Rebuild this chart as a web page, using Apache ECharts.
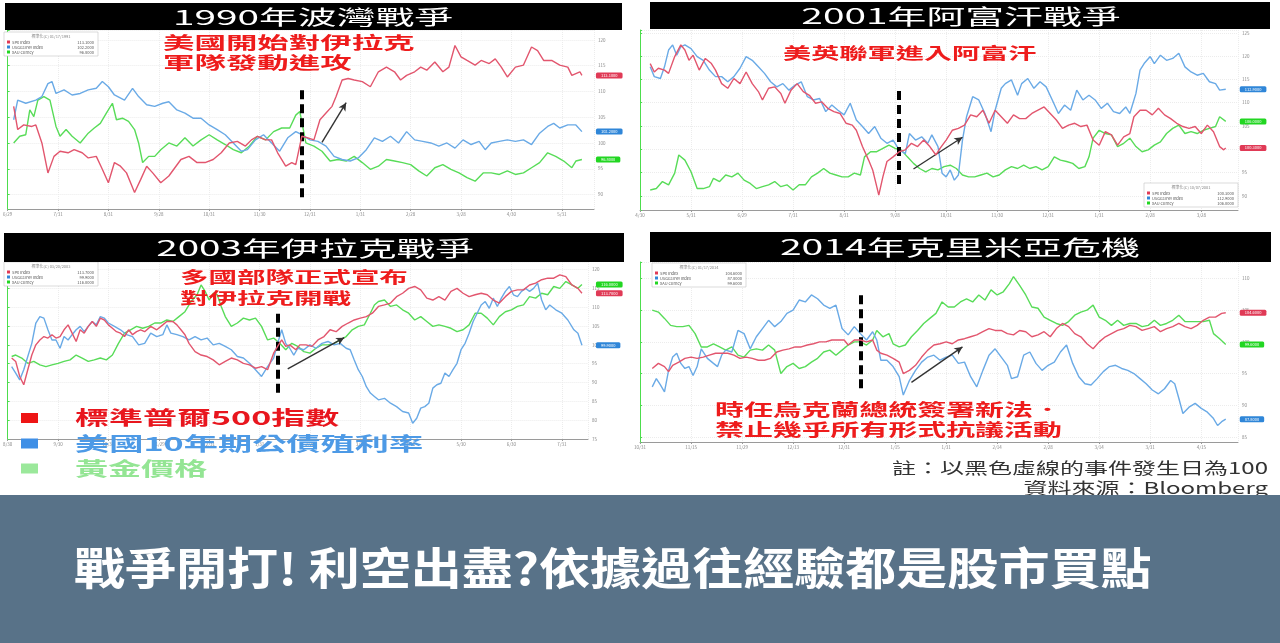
<!DOCTYPE html>
<html><head><meta charset="utf-8">
<script src="https://cdn.jsdelivr.net/npm/echarts@6/dist/echarts.min.js"></script>
<style>html,body{margin:0;padding:0;background:#fff;}#c{width:1280px;height:643px;}</style>
</head><body><div id="c"></div>
<script>
// ---------------- DATA ----------------
const panelTitles = ['1990年波灣戰爭', '2001年阿富汗戰爭', '2003年伊拉克戰爭', '2014年克里米亞危機'];
const seriesNames = ['SPX Index', 'USGG10YR Index', 'XAU Curncy'];
const legendLabels = ['標準普爾500指數', '美國10年期公債殖利率', '黃金價格'];
const annotations = [
  ['美國開始對伊拉克', '軍隊發動進攻'],
  ['美英聯軍進入阿富汗'],
  ['多國部隊正式宣布', '對伊拉克開戰'],
  ['時任烏克蘭總統簽署新法．', '禁止幾乎所有形式抗議活動']
];
const footNotes = ['註：以黑色虛線的事件發生日為100', '資料來源：Bloomberg'];
const bannerText = '戰爭開打! 利空出盡?依據過往經驗都是股市買點';
const boxHeaders = ['標準化(C) 01/17/1991', '標準化(C) 10/07/2001', '標準化(C) 03/20/2003', '標準化(C) 01/17/2014'];

const xTicks1990 = ['6/29','7/31','8/31','9/28','10/31','11/30','12/31','1/31','2/28','3/28','4/30','5/31'];
const xTicks2001 = ['4/30','5/31','6/29','7/31','8/31','9/28','10/31','11/30','12/31','1/31','2/28','3/28'];
const xTicks2003 = ['8/30','9/30','10/31','11/29','12/31','1/31','2/28','3/31','4/30','5/30','6/30','7/31'];
const xTicks2014 = ['10/31','11/15','11/29','12/13','12/31','1/15','1/31','2/14','2/28','3/14','3/31','4/15'];

// [trading day, value rebased to 100 at event]
const spx1990 = [[3,107.1],[5,102.6],[8,103.5],[12,103.2],[14,103.5],[17,100.0],[20,94.2],[23,97.4],[26,98.4],[30,98.1],[33,98.7],[37,98.1],[40,97.1],[44,97.4],[47,94.9],[50,92.3],[53,96.2],[56,95.5],[59,94.2],[63,90.4],[66,92.9],[69,95.5],[72,94.2],[76,92.3],[80,93.6],[83,95.2],[86,96.8],[90,97.4],[94,96.2],[98,96.2],[102,96.8],[106,98.1],[110,100.0],[114,100.3],[118,99.4],[121,100.6],[124,101.3],[128,100.6],[131,100.6],[134,98.1],[138,95.5],[141,96.2],[143,95.8],[146,101.3],[149,101.0],[152,100.6],[155,104.5],[158,105.8],[161,107.1],[163,109.0],[166,112.2],[169,112.5],[172,112.2],[176,111.9],[180,110.9],[184,113.8],[188,114.7],[192,113.8],[195,112.2],[198,113.1],[202,113.8],[205,114.7],[208,114.1],[212,115.7],[216,113.8],[219,114.7],[222,118.9],[225,116.7],[228,116.0],[232,115.1],[235,116.0],[239,115.4],[242,116.3],[245,114.7],[248,112.8],[252,114.7],[256,115.1],[260,118.6],[263,117.9],[266,116.0],[270,116.0],[274,115.1],[278,114.7],[280,113.1],[284,113.8],[285,113.1]];
const ust1990 = [[3,104.5],[5,108.3],[9,107.7],[14,108.3],[17,109.0],[20,111.5],[22,111.9],[24,109.6],[28,110.3],[32,109.3],[36,109.6],[40,110.3],[44,110.6],[47,111.9],[50,110.9],[53,109.3],[58,108.3],[62,110.6],[65,109.0],[69,107.4],[73,107.1],[77,107.7],[80,108.0],[84,106.4],[88,105.8],[92,104.8],[96,104.8],[100,103.5],[104,102.6],[108,101.6],[112,100.0],[116,98.4],[119,98.7],[123,100.6],[127,101.6],[131,100.0],[135,98.4],[139,101.0],[143,102.2],[146,101.6],[150,100.6],[154,100.3],[158,99.4],[162,97.4],[166,96.8],[170,96.5],[174,97.1],[178,98.7],[182,101.0],[186,100.3],[190,101.3],[194,100.0],[198,102.2],[202,100.6],[206,100.3],[210,100.0],[214,99.4],[218,100.0],[222,99.0],[226,100.6],[230,99.7],[234,100.3],[237,98.7],[240,100.0],[244,100.3],[248,100.6],[252,100.3],[256,100.6],[260,99.7],[264,101.9],[268,103.2],[271,103.8],[274,102.9],[278,103.5],[282,103.5],[285,102.2]];
const gold1990 = [[3,100.0],[6,101.3],[9,101.6],[11,106.4],[13,105.1],[15,108.3],[18,109.0],[21,108.3],[24,103.2],[26,101.3],[29,102.6],[32,101.3],[36,100.0],[40,101.9],[43,102.9],[46,103.8],[49,105.8],[52,107.7],[54,104.5],[57,104.8],[60,104.2],[63,102.6],[65,100.0],[67,96.2],[70,97.4],[73,97.4],[76,98.7],[80,100.0],[84,99.4],[88,101.0],[92,99.4],[96,100.6],[100,101.6],[104,100.6],[108,99.7],[112,98.7],[116,98.1],[120,99.4],[124,101.3],[128,100.6],[132,102.2],[136,102.9],[140,102.9],[143,105.4],[145,106.1],[148,100.0],[152,99.4],[156,98.4],[160,96.5],[164,96.8],[168,96.5],[172,97.4],[176,96.2],[180,94.9],[184,95.5],[188,96.8],[192,96.5],[196,96.2],[200,95.8],[204,94.6],[208,93.6],[212,95.2],[216,95.8],[220,94.9],[224,94.2],[228,93.3],[232,92.6],[236,94.2],[240,94.2],[244,93.9],[248,94.6],[252,93.9],[256,94.2],[260,95.2],[264,96.2],[268,98.1],[272,97.4],[276,96.5],[280,95.2],[282,96.5],[285,96.8]];

const spx2001 = [[5,118.4],[7,116.6],[9,117.4],[12,117.0],[14,116.3],[17,119.9],[20,122.4],[22,121.3],[24,119.1],[26,120.2],[29,117.0],[32,119.5],[35,118.4],[37,117.0],[40,114.1],[43,113.1],[46,115.2],[49,114.1],[52,116.6],[55,114.1],[58,112.4],[60,110.6],[63,113.1],[66,113.4],[69,112.0],[71,109.9],[74,112.7],[77,114.1],[80,112.4],[83,111.6],[86,109.9],[89,110.2],[92,108.8],[95,108.1],[98,107.7],[101,105.6],[104,105.2],[106,104.1],[109,100.6],[112,97.7],[114,95.6],[116,92.0],[117,90.2],[119,94.1],[121,97.4],[124,98.4],[127,99.5],[130,99.9],[133,101.3],[136,100.6],[139,102.0],[142,100.6],[145,98.8],[147,100.2],[150,102.0],[153,104.1],[156,104.5],[159,105.2],[162,107.4],[165,107.0],[168,108.4],[171,105.6],[174,108.4],[177,107.0],[180,105.6],[183,107.4],[186,106.6],[189,106.6],[192,107.7],[195,108.4],[198,109.1],[201,107.7],[204,106.3],[207,104.5],[210,105.2],[213,105.6],[216,104.9],[219,105.2],[222,102.0],[225,100.9],[228,103.8],[231,103.1],[234,100.9],[237,102.7],[240,103.4],[242,107.0],[245,108.4],[248,108.4],[251,107.4],[254,108.8],[257,107.4],[260,106.6],[263,105.6],[266,104.9],[269,104.5],[272,104.9],[275,103.4],[278,105.2],[281,103.8],[284,100.6],[286,99.9],[287,100.3]];
const ust2001 = [[5,117.7],[7,115.6],[10,115.2],[12,117.7],[14,121.3],[16,122.4],[18,120.2],[20,122.0],[22,122.4],[25,121.6],[28,119.9],[31,119.1],[34,117.0],[37,115.6],[40,115.6],[43,114.5],[46,115.6],[49,117.4],[52,119.9],[55,119.1],[58,117.7],[61,116.3],[64,114.5],[67,113.4],[70,114.1],[73,112.7],[76,113.8],[79,114.5],[82,111.3],[85,110.6],[88,110.9],[91,108.1],[94,109.5],[97,108.4],[100,107.4],[103,109.9],[106,106.3],[109,104.9],[112,103.4],[115,104.9],[118,102.4],[121,101.3],[124,102.0],[127,99.9],[130,99.1],[132,103.4],[135,102.0],[138,102.7],[141,101.3],[143,103.1],[146,100.6],[148,94.9],[150,94.1],[152,95.6],[154,93.4],[156,94.5],[158,102.0],[160,107.0],[163,111.3],[166,110.6],[169,107.7],[172,103.8],[174,108.4],[177,113.1],[179,114.1],[182,114.9],[185,111.6],[187,114.1],[190,115.2],[193,113.1],[196,114.5],[199,113.4],[202,110.6],[205,107.7],[208,109.5],[211,108.4],[214,112.7],[217,110.6],[220,111.6],[223,110.6],[226,108.8],[229,109.9],[232,108.1],[235,107.7],[238,109.1],[240,107.7],[243,112.0],[245,117.0],[247,118.4],[250,119.9],[252,118.4],[255,120.2],[258,119.1],[261,119.5],[264,120.6],[267,117.7],[270,116.6],[273,115.9],[276,116.3],[279,114.5],[282,114.1],[284,112.7],[287,112.9]];
const gold2001 = [[5,91.3],[8,91.6],[11,93.1],[14,92.4],[17,94.9],[19,98.8],[22,97.7],[25,95.2],[28,91.6],[31,91.6],[34,92.0],[36,93.8],[39,93.1],[42,94.5],[45,94.1],[48,94.9],[51,93.4],[54,92.7],[57,91.6],[60,92.0],[63,92.4],[66,93.1],[69,92.0],[72,92.4],[75,91.3],[78,92.4],[81,92.4],[84,94.1],[87,94.9],[90,95.9],[93,94.9],[96,94.5],[99,94.1],[102,94.1],[105,94.9],[108,94.5],[110,98.4],[113,99.5],[116,99.5],[119,100.2],[122,100.9],[125,100.2],[128,99.9],[131,98.4],[134,97.0],[137,95.9],[140,95.2],[143,95.9],[146,95.6],[149,96.3],[152,96.6],[155,95.9],[158,94.5],[161,94.1],[164,94.1],[167,94.5],[170,94.9],[173,94.1],[176,94.5],[179,95.6],[182,96.3],[185,95.9],[188,96.6],[191,95.9],[194,96.3],[197,95.6],[200,96.3],[203,98.4],[206,97.7],[209,97.4],[212,97.0],[215,95.9],[218,96.3],[220,98.4],[222,102.4],[225,104.1],[228,103.4],[231,103.1],[234,100.6],[237,101.3],[240,102.4],[243,100.6],[246,99.5],[249,99.9],[252,100.9],[255,101.6],[258,103.4],[261,104.5],[264,105.2],[267,103.4],[270,103.8],[273,103.4],[276,104.1],[279,104.5],[282,104.9],[284,107.0],[287,106.0]];

const spx2003 = [[2,96.5],[4,95.6],[6,91.6],[8,89.4],[10,93.4],[12,97.3],[14,100.0],[16,101.3],[18,102.2],[20,101.8],[22,102.7],[24,101.8],[26,102.2],[28,104.0],[30,105.3],[32,103.1],[34,100.9],[36,104.0],[38,103.1],[40,104.9],[42,106.2],[44,104.9],[46,107.1],[48,106.6],[50,105.3],[52,104.4],[54,103.5],[56,103.1],[58,102.2],[60,104.0],[62,102.7],[64,103.5],[66,104.0],[68,103.5],[71,104.9],[74,104.0],[77,105.3],[79,106.2],[82,106.2],[84,105.3],[86,104.0],[88,102.7],[90,100.4],[93,98.2],[96,97.3],[99,96.9],[102,96.0],[105,94.7],[108,95.6],[111,96.5],[114,96.0],[117,95.1],[120,94.7],[123,93.8],[126,94.2],[129,93.4],[132,97.8],[134,99.6],[136,101.3],[138,99.6],[140,100.0],[143,98.7],[145,100.0],[148,100.0],[151,99.6],[154,101.3],[157,102.2],[160,104.0],[163,103.5],[166,104.9],[169,105.8],[172,106.6],[175,107.1],[178,107.5],[181,108.4],[184,110.2],[187,110.6],[190,111.1],[193,112.8],[196,113.7],[199,115.0],[202,115.5],[205,114.6],[208,112.4],[211,111.9],[214,112.8],[217,111.9],[220,114.2],[223,115.0],[226,113.7],[229,112.8],[232,113.3],[235,113.7],[238,113.3],[241,111.9],[244,111.1],[247,112.8],[250,114.2],[253,114.6],[256,114.6],[259,115.9],[262,116.4],[265,117.3],[268,117.7],[271,117.7],[274,118.6],[277,118.1],[280,115.9],[283,115.0],[285,113.7]];
const ust2003 = [[2,94.2],[4,92.5],[6,90.7],[8,93.4],[10,96.9],[12,100.4],[14,105.8],[16,107.5],[18,107.1],[20,104.0],[22,101.3],[24,101.3],[26,99.1],[28,102.2],[30,101.3],[32,102.7],[34,104.0],[36,104.9],[38,103.5],[40,104.9],[42,106.2],[44,105.3],[46,107.5],[48,107.1],[50,105.8],[53,104.9],[56,104.0],[59,102.7],[62,102.2],[65,100.0],[68,100.4],[71,103.1],[74,102.2],[77,102.7],[79,105.3],[81,103.1],[84,102.7],[87,102.2],[90,101.3],[93,102.2],[96,101.3],[99,101.8],[102,100.0],[105,100.4],[108,99.6],[111,98.7],[114,96.9],[117,96.5],[120,95.1],[123,93.4],[126,91.6],[129,94.2],[132,96.5],[134,100.4],[136,104.0],[138,100.4],[140,99.1],[142,97.3],[144,99.1],[147,98.7],[150,100.0],[153,99.1],[156,100.4],[159,100.9],[162,100.0],[165,100.4],[168,99.1],[170,98.7],[172,96.0],[174,93.4],[176,91.6],[178,88.9],[180,87.2],[182,86.3],[184,85.4],[187,85.8],[190,84.5],[193,83.6],[196,82.3],[199,81.9],[201,79.2],[203,80.5],[205,83.2],[207,83.6],[209,84.5],[211,88.5],[213,89.4],[215,89.8],[217,92.5],[219,91.6],[221,93.4],[223,95.1],[225,98.7],[227,100.4],[229,103.1],[231,106.2],[233,108.4],[235,110.6],[237,111.5],[239,109.7],[241,112.4],[243,110.2],[245,112.4],[247,114.2],[249,115.5],[251,113.3],[253,112.8],[255,114.2],[257,115.0],[259,114.2],[261,115.0],[263,116.4],[265,111.9],[267,109.3],[269,110.6],[272,109.3],[275,108.4],[278,106.6],[281,104.0],[283,103.1],[285,99.9]];
const gold2003 = [[2,96.9],[4,97.3],[7,96.5],[10,95.1],[13,95.6],[16,94.7],[19,94.2],[22,94.7],[25,95.1],[28,95.6],[31,96.0],[34,97.3],[37,96.5],[40,95.6],[43,96.0],[46,96.5],[49,96.0],[52,97.3],[55,100.4],[58,103.1],[61,104.0],[64,104.9],[67,104.4],[70,104.9],[73,105.8],[76,105.8],[79,106.6],[82,106.2],[85,107.5],[88,108.8],[91,111.5],[94,113.3],[96,115.9],[98,114.2],[100,111.9],[102,113.7],[104,113.3],[106,110.2],[108,107.5],[111,104.9],[114,105.8],[117,107.1],[120,106.6],[123,107.1],[126,104.9],[129,101.3],[132,101.8],[135,100.4],[138,98.7],[141,100.4],[144,99.6],[147,98.2],[150,97.8],[153,99.1],[156,100.0],[159,100.0],[162,100.4],[165,101.3],[168,102.2],[171,104.0],[174,104.9],[177,105.3],[180,108.4],[182,110.6],[184,111.5],[187,111.9],[190,110.2],[193,110.6],[196,109.3],[199,108.4],[202,106.6],[205,107.5],[208,106.2],[211,104.9],[214,105.3],[217,104.9],[220,104.4],[223,103.5],[226,104.0],[229,105.3],[232,108.4],[235,108.4],[238,107.1],[241,105.3],[244,107.5],[247,108.8],[250,109.3],[253,110.2],[256,110.6],[259,112.8],[262,112.4],[265,113.7],[268,113.3],[271,115.5],[274,115.0],[277,116.8],[280,115.9],[283,115.0],[285,116.0]];

const spx2014 = [[6,95.8],[9,96.6],[12,96.1],[14,95.3],[16,96.3],[19,96.8],[22,97.4],[25,97.6],[28,97.4],[31,97.6],[34,97.9],[37,98.2],[40,98.2],[43,98.2],[46,97.9],[49,97.4],[52,97.6],[55,97.4],[58,97.1],[61,97.1],[64,97.4],[67,98.4],[70,98.7],[73,98.9],[76,99.2],[79,99.2],[82,99.5],[85,99.7],[88,100.0],[91,100.0],[94,100.3],[97,100.3],[100,100.3],[102,99.5],[105,100.3],[108,100.3],[111,100.0],[114,100.3],[116,98.7],[118,98.2],[121,97.9],[124,97.4],[127,96.8],[129,95.0],[132,95.5],[135,96.3],[138,97.6],[141,98.7],[144,99.5],[147,99.7],[150,100.0],[153,99.7],[156,100.3],[159,100.5],[162,100.8],[165,101.1],[168,101.6],[171,102.1],[174,101.8],[177,101.8],[180,101.3],[183,101.1],[186,101.8],[189,101.6],[192,100.8],[195,101.1],[198,101.6],[201,100.8],[204,102.1],[207,102.9],[210,102.4],[213,101.3],[216,100.8],[219,99.7],[222,98.9],[225,100.0],[228,100.8],[231,101.3],[234,101.8],[237,102.1],[240,102.6],[243,102.4],[246,101.8],[249,102.1],[252,102.4],[255,101.6],[258,102.1],[261,102.4],[264,102.9],[267,102.4],[270,102.1],[273,102.6],[276,103.4],[279,103.9],[282,103.9],[285,104.5],[287,104.6]];
const ust2014 = [[6,92.9],[8,94.2],[10,93.2],[12,92.1],[14,95.5],[16,97.6],[18,98.2],[20,96.6],[22,95.8],[24,96.1],[26,94.7],[28,96.1],[30,98.9],[33,97.4],[36,96.6],[38,96.1],[40,97.9],[42,98.7],[45,98.4],[48,101.8],[51,101.3],[54,98.9],[57,100.8],[60,102.1],[63,103.4],[66,102.4],[69,103.2],[72,104.5],[75,105.0],[78,106.6],[81,106.3],[84,107.4],[87,106.8],[90,105.8],[93,105.3],[96,105.8],[99,102.1],[102,101.1],[105,102.4],[108,101.3],[111,100.3],[114,101.6],[116,100.3],[118,97.1],[121,97.1],[124,96.1],[127,94.5],[129,91.6],[132,93.9],[135,95.5],[138,96.8],[141,97.6],[144,97.9],[147,97.1],[150,97.6],[153,97.9],[156,96.6],[159,96.8],[162,94.5],[165,92.9],[168,95.5],[171,97.9],[174,98.9],[177,97.6],[180,96.3],[182,94.2],[185,94.5],[188,97.9],[191,98.4],[194,96.6],[197,95.5],[200,96.3],[203,96.8],[206,98.4],[209,99.5],[212,96.6],[215,94.5],[218,93.4],[221,93.2],[224,94.2],[227,95.3],[230,96.1],[233,96.3],[236,95.8],[239,95.5],[242,95.0],[245,94.2],[248,93.4],[251,92.4],[254,91.8],[257,92.6],[260,93.9],[262,93.4],[264,91.1],[266,88.7],[269,89.7],[272,90.3],[275,89.5],[278,88.9],[281,87.9],[283,86.8],[285,87.4],[287,87.8]];
const gold2014 = [[6,105.0],[9,104.7],[12,103.7],[15,102.6],[18,102.4],[21,102.4],[24,102.6],[27,101.3],[30,99.2],[33,99.2],[36,99.7],[39,99.2],[42,98.7],[45,99.2],[48,97.9],[51,97.6],[54,98.7],[57,98.9],[60,98.7],[63,99.5],[66,98.7],[69,95.0],[72,96.1],[75,96.6],[78,95.8],[81,96.1],[84,96.8],[87,97.4],[90,98.4],[93,98.7],[96,97.9],[99,98.7],[102,99.5],[105,100.0],[108,100.0],[111,99.5],[114,100.3],[116,101.8],[119,100.8],[122,101.3],[124,99.7],[127,99.2],[130,99.5],[133,100.8],[136,101.8],[139,102.9],[142,103.7],[145,104.5],[148,106.3],[151,105.5],[154,105.5],[157,106.3],[160,106.8],[163,106.3],[166,107.4],[169,106.6],[172,108.2],[175,107.4],[178,107.9],[181,109.2],[183,110.3],[186,108.9],[189,107.4],[192,105.5],[195,105.3],[198,103.9],[201,103.4],[204,102.9],[207,102.6],[210,103.2],[213,104.2],[216,104.7],[219,105.0],[222,105.8],[225,103.9],[228,103.4],[231,102.6],[234,103.4],[237,102.6],[240,102.9],[243,102.9],[246,102.4],[249,102.6],[252,103.4],[255,102.6],[258,102.9],[261,103.4],[264,104.2],[267,103.2],[270,103.2],[273,103.2],[276,103.2],[279,103.4],[281,101.3],[284,100.5],[287,99.6]];

// event day (black dashed line) and its drawn span, arrows (day, value)
const eventDay = [146, 127, 134, 108];
const eventSpan = [[89.5, 110.3], [92.6, 112.5], [87.3, 108.5], [92.7, 107.4]];
const arrowStart = [[156, 100.1], [134, 95.8], [139, 93.6], [133, 93.6]];
const arrowEnd = [[168, 107.8], [158, 102.6], [167, 101.9], [158, 99.2]];

// ---------------- STYLE / LAYOUT ----------------
const FONT = '"Noto Sans CJK TC","Noto Sans CJK SC","Noto Sans",sans-serif';
const LINE = ['#e2566e', '#6aaae6', '#58dc58'];
const TAG = ['#e03a56', '#2f86d8', '#22d622'];
const panels = [
  {grid: {left: 0, right: 686, top: 30, bottom: 434}, xMax: 291, yMin: 87.2, yMax: 121.9, split: 7, data: [spx1990, ust1990, gold1990], ticks: xTicks1990},
  {grid: {left: 640, right: 42, top: 30, bottom: 433}, xMax: 293, yMin: 87, yMax: 125.6, split: 8, data: [spx2001, ust2001, gold2001], ticks: xTicks2001},
  {grid: {left: 0, right: 692, top: 262, bottom: 204}, xMax: 288, yMin: 75, yMax: 122, split: 9, data: [spx2003, ust2003, gold2003], ticks: xTicks2003},
  {grid: {left: 640, right: 42, top: 262, bottom: 201}, xMax: 293, yMin: 84.2, yMax: 112.6, split: 6, data: [spx2014, ust2014, gold2014], ticks: xTicks2014}
];

const grids = [], xAxes = [], yAxes = [], series = [];
panels.forEach((p, i) => {
  grids.push(Object.assign({containLabel: false}, p.grid));
  xAxes.push({
    type: 'value', gridIndex: i, min: 0, max: p.xMax, interval: 25,
    axisLine: {lineStyle: {color: '#9a9a9a'}},
    axisTick: {show: true, length: 2, lineStyle: {color: '#9a9a9a'}},
    axisLabel: {fontSize: 4.5, color: '#888', margin: 3, showMaxLabel: false,
      formatter: v => (p.ticks[Math.round(v / 25)] || '')},
    splitLine: {show: true, lineStyle: {color: '#ececec', type: 'dotted'}}
  });
  yAxes.push({
    type: 'value', gridIndex: i, position: 'right', min: p.yMin, max: p.yMax, splitNumber: p.split,
    axisLine: {show: true, lineStyle: {color: '#4ddd4d', width: 1}},
    axisTick: {show: true, length: 2, lineStyle: {color: '#4ddd4d'}},
    axisLabel: {fontSize: 4.5, color: '#888', margin: 4,
      formatter: v => (Math.abs(v % 5) < 1e-6 ? String(Math.round(v)) : '')},
    splitLine: {show: true, lineStyle: {color: '#ececec', type: 'dotted'}}
  });
  p.data.forEach((d, k) => {
    const s = {
      type: 'line', name: seriesNames[k], xAxisIndex: i, yAxisIndex: i, data: d,
      symbol: 'none', z: 3 - k * 0.1 + 2,
      lineStyle: {color: LINE[k], width: 1.4}, itemStyle: {color: LINE[k]},
      endLabel: {show: true, distance: 14, fontSize: 4, color: '#fff', backgroundColor: TAG[k],
        padding: [1, 5], borderRadius: 1.5, formatter: q => q.value[1].toFixed(4)},
      animation: false
    };
    if (k === 0) {
      s.markLine = {
        silent: true, animation: false, symbol: 'none', label: {show: false},
        data: [
          [{coord: [eventDay[i], eventSpan[i][0]], symbol: 'none', lineStyle: {color: '#000', width: 4, type: [9, 5]}},
           {coord: [eventDay[i], eventSpan[i][1]], symbol: 'none'}],
          [{coord: arrowStart[i], symbol: 'none', lineStyle: {color: '#333', width: 1.4, type: 'solid'}},
           {coord: arrowEnd[i], symbol: 'arrow', symbolSize: [6, 8]}]
        ]
      };
    }
    series.push(s);
  });
});

// ---------------- GRAPHIC TEXT ----------------
function sText(text, x, y, size, sx, color, weight, align, z) {
  return {type: 'text', x: x, y: y, scaleX: sx, z: z || 110,
    style: {text: text, fill: color, fontSize: size, fontWeight: weight || 'normal', fontFamily: FONT,
      align: align || 'left', verticalAlign: 'middle', textAlign: align || 'left', textVerticalAlign: 'middle'}};
}
const graphic = [];
// title bars
const titleBars = [[5, 3, 617, 27], [650, 2, 620, 27], [4, 233, 620, 29], [650, 232, 621, 30]];
const titlePos = [[313, 17, 20, 1.94], [961, 16, 21, 1.85], [315, 248, 21, 1.84], [960, 247.5, 21, 1.86]];
titleBars.forEach((b, i) => {
  graphic.push({type: 'rect', z: 100, shape: {x: b[0], y: b[1], width: b[2], height: b[3]}, style: {fill: '#000'}});
  const t = titlePos[i];
  graphic.push(sText(panelTitles[i], t[0], t[1], t[2], t[3], '#fff', 'normal', 'center', 101));
});
// red annotations
const annPos = [[163, 43, 20, 17, 1.85], [783, 53, 20, 16, 1.76], [180, 277, 21, 16, 1.78], [715, 410, 20, 17, 1.7]];
annotations.forEach((lines, i) => {
  const a = annPos[i];
  lines.forEach((ln, j) => graphic.push(sText(ln, a[0], a[1] + j * a[2], a[3], a[4], '#ee1c1c', 'bold', 'left', 90)));
});
// small bloomberg legend boxes
const boxPos = [[4, 32], [1144, 183], [4, 262], [652, 263]];
boxPos.forEach((b, i) => {
  const bx = b[0], by = b[1];
  graphic.push({type: 'rect', z: 95, shape: {x: bx, y: by, width: 94, height: 24}, style: {fill: '#fff', stroke: '#c4c4c4', lineWidth: 0.6}});
  graphic.push(sText(boxHeaders[i], bx + 47, by + 4.5, 4, 1, '#888', 'normal', 'center', 96));
  panels[i].data.forEach((d, k) => {
    const ry = by + 10 + k * 5;
    graphic.push({type: 'rect', z: 96, shape: {x: bx + 3, y: ry - 1.5, width: 3, height: 3}, style: {fill: TAG[k]}});
    graphic.push(sText(seriesNames[k], bx + 8, ry, 4, 1, '#555', 'normal', 'left', 96));
    graphic.push(sText(d[d.length - 1][1].toFixed(4), bx + 90, ry, 4, 1, '#555', 'normal', 'right', 96));
  });
});
// big legend
const legColors = ['#ee1515', '#3f8fe6', '#9be89b'];
const legTextColors = ['#e8161e', '#4d9ae6', '#94e594'];
const legY = [418, 443.5, 468.5];
const legScale = [1.79, 1.8, 1.74];
legendLabels.forEach((lb, k) => {
  graphic.push({type: 'rect', z: 105, shape: {x: 21, y: legY[k] - 5, width: 17, height: 10}, style: {fill: legColors[k]}});
  graphic.push(sText(lb, 75, legY[k], 19, legScale[k], legTextColors[k], 'bold', 'left', 105));
});
// footnotes
graphic.push(sText(footNotes[0], 1268, 468, 16, 1.5, '#333', 'normal', 'right', 105));
graphic.push(sText(footNotes[1], 1268, 488, 16, 1.5, '#333', 'normal', 'right', 105));
// banner
graphic.push({type: 'rect', z: 120, shape: {x: 0, y: 495, width: 1280, height: 148}, style: {fill: '#587288'}});
graphic.push(sText(bannerText, 74, 568, 44, 1.16, '#fff', 'bold', 'left', 121));

const chart = echarts.init(document.getElementById('c'), null, {renderer: 'canvas'});
chart.setOption({
  animation: false,
  backgroundColor: '#fff',
  textStyle: {fontFamily: FONT},
  grid: grids, xAxis: xAxes, yAxis: yAxes, series: series,
  graphic: graphic
});
</script>
</body></html>
